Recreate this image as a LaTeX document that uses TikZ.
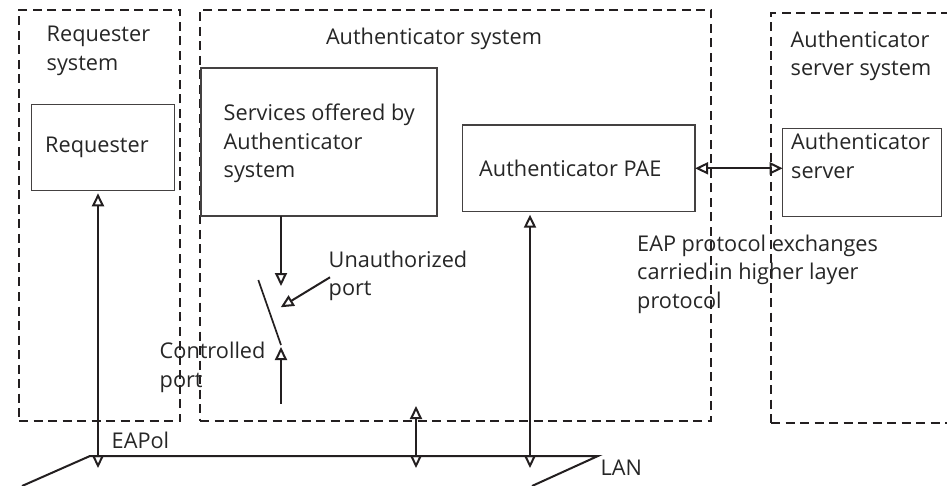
\documentclass[tikz,border=0pt]{standalone}
\usepackage{fontspec}
\setmainfont{Open Sans}
\usetikzlibrary{arrows.meta,calc}
\definecolor{ink}{HTML}{231F20}
\definecolor{txt}{HTML}{262626}
\begin{document}
\begin{tikzpicture}[x=1pt,y=-1pt,
  sysbox/.style={draw=ink, line width=1.8pt, dash pattern=on 9pt off 5.5pt, inner sep=0pt, outer sep=0pt},
  box/.style={draw=ink!85, line width=1.3pt, inner sep=0pt, outer sep=0pt},
  lbl/.style={anchor=base west, inner sep=0pt, align=left, text=txt, font=\fontsize{21.7}{28.3}\selectfont},
  conn/.style={draw=ink, line width=2pt},
  tipsty/.style={Triangle[open,length=13pt,width=12pt,line width=2pt]},
  dbl/.style={conn, {Triangle[open,length=13pt,width=12pt,line width=2pt]}-{Triangle[open,length=13pt,width=12pt,line width=2pt]}},
  one/.style={conn, -{Triangle[open,length=13pt,width=12pt,line width=2pt]}},
]
\useasboundingbox (0,0) rectangle (947,486);
\clip (0,0) rectangle (947,486);

% system (dashed) boxes
\node[sysbox, minimum width=161pt, minimum height=411pt] (reqsys) at (99.5,215.5) {};
\node[sysbox, minimum width=511pt, minimum height=411pt] (authsys) at (455.5,215.5) {};
\node[sysbox, minimum width=189pt, minimum height=410pt] (srvsys) at (865.5,218) {};

% component boxes
\node[box, minimum width=142.6pt, minimum height=86pt] (req) at (103,147.3) {};
\node[box, minimum width=236pt, minimum height=148pt] (svc) at (319,142) {};
\node[box, minimum width=232.7pt, minimum height=86.7pt] (pae) at (578.7,168.3) {};
\node[box, minimum width=159pt, minimum height=88.4pt] (srv) at (862.2,172.5) {};

% texts (multi-line: anchor is the baseline of the last line)
\node[lbl] (treqsys) at (46.5,70.3) {Requester\\system};
\node[lbl, anchor=base] (tauthsys) at (434,45) {Authenticator system};
\node[lbl] (tsrvsys) at (790.5,76) {Authenticator\\server system};
\node[lbl] (treq) at (45,152.7) {Requester};
\node[lbl] (tsvc) at (223.5,177.6) {Services offered by\\Authenticator\\system};
\node[lbl] (tpae) at (479,176.7) {Authenticator PAE};
\node[lbl] (tsrv) at (791,178.3) {Authenticator\\server};
\node[lbl] (tunauth) at (328.5,295.5) {Unauthorized\\port};
\node[lbl] (tctrl) at (159.5,387) {Controlled\\port};
\node[lbl] (teap) at (637,308) {EAP protocol exchanges\\carried in higher layer\\protocol};
\node[lbl] (teapol) at (111.5,448.3) {EAPol};
\node[lbl] (tlan) at (600.5,475) {LAN};

% LAN
\coordinate (lanBL) at (22,486);
\coordinate (lanTL) at (90,456);
\coordinate (lanTR) at (598,456);
\coordinate (lanBR) at (532,486);
\draw[conn] (lanBL) -- (lanTL) -- (lanTR) -- (lanBR);

% LAN taps
\coordinate (lanReq) at (98,468);
\coordinate (lanMid) at (416,468);
\coordinate (midTop) at (416,406);
\coordinate (lanPae) at (530,468);
\draw[dbl] (lanReq) -- ([yshift=-3pt]req.south -| lanReq);
\draw[dbl] (lanMid) -- (midTop);
\draw[dbl] (lanPae) -- ([yshift=-3pt]pae.south -| lanPae);

% PAE <-> server
\draw[dbl] (pae.east) -- (srv.west |- pae.east);

% switch
\coordinate (swIn) at (281,286);
\coordinate (leverA) at (258.3,280);
\coordinate (leverB) at (281,345);
\coordinate (ctrlTip) at (281,347);
\coordinate (ctrlBot) at (281,403.5);
\coordinate (unauthFrom) at (330,277.3);
\coordinate (unauthTip) at (280.7,307.3);
\draw[one] (svc.south -| swIn) -- (swIn);
\draw[conn, line width=1.7pt] (leverA) -- (leverB);
\draw[one] (ctrlBot) -- (ctrlTip);
\draw[one] (unauthFrom) -- (unauthTip);
\end{tikzpicture}
\end{document}
